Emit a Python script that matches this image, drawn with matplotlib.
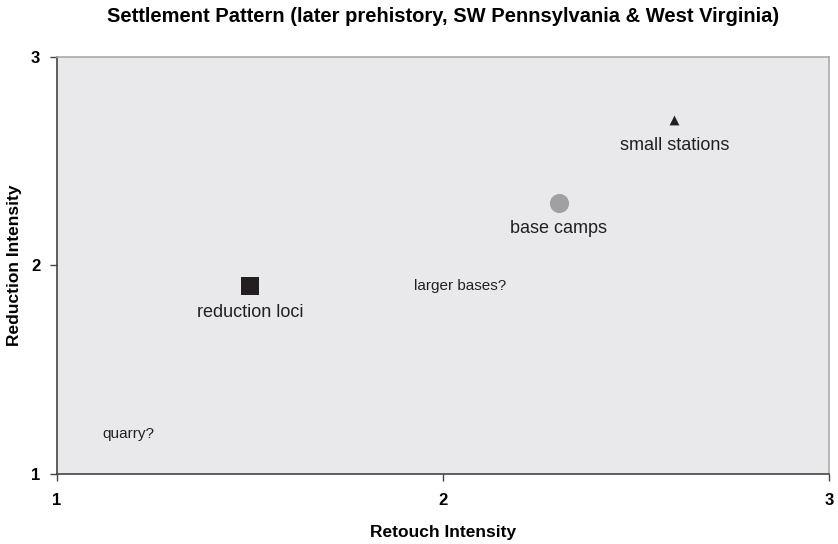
import matplotlib
matplotlib.use("Agg")
import matplotlib.pyplot as plt

plt.rcParams['font.family'] = ['Liberation Sans', 'DejaVu Sans']

# site types with markers
site_names = ['reduction loci', 'base camps', 'small stations']
retouch = [1.5, 2.3, 2.6]
reduction = [1.9, 2.3, 2.7]
markers = ['s', 'o', '^']
colors = ['#231f20', '#a0a0a0', '#231f20']
sizes = [150, 190, 50]

# text-only notes
note_labels = ['larger bases?', 'quarry?']
note_x = [2.045, 1.185]
note_y = [1.9, 1.19]

tick_vals = [1, 2, 3]

fig = plt.figure(figsize=(8.38, 5.44), dpi=100)
ax = fig.add_axes([0.068, 0.129, 0.921, 0.766])
ax.set_facecolor('#e9e9eb')

for x, y, m, c, s, name in zip(retouch, reduction, markers, colors, sizes, site_names):
    ax.scatter([x], [y], marker=m, color=c, s=s, zorder=3, linewidths=0)
    ax.annotate(name, (x, y), xytext=(0, -26), textcoords='offset pixels',
                ha='center', va='center', fontsize=13, color='#231f20')

for lab, x, y in zip(note_labels, note_x, note_y):
    ax.text(x, y, lab, ha='center', va='center', fontsize=11, color='#231f20')

ax.set_xlim(1, 3)
ax.set_ylim(1, 3)
ax.set_xticks(tick_vals)
ax.set_yticks(tick_vals)
ax.set_xticklabels([str(t) for t in tick_vals], fontweight='bold', fontsize=12)
ax.set_yticklabels([str(t) for t in tick_vals], fontweight='bold', fontsize=12)
ax.tick_params(direction='out', length=5, width=1, color='#444444')
ax.tick_params(axis='x', pad=9)
ax.tick_params(axis='y', pad=7)

for s in ['left', 'bottom']:
    ax.spines[s].set_color('#444444')
    ax.spines[s].set_linewidth(1.2)
for s in ['top', 'right']:
    ax.spines[s].set_color('#aaaaaa')
    ax.spines[s].set_linewidth(1.2)

ax.set_xlabel('Retouch Intensity', fontweight='bold', fontsize=12.5, labelpad=12)
ax.set_ylabel('Reduction Intensity', fontweight='bold', fontsize=12.5)
ax.yaxis.set_label_coords(-0.045, 0.5)
ax.set_title('Settlement Pattern (later prehistory, SW Pennsylvania & West Virginia)',
             fontweight='bold', fontsize=14.5, pad=25)

fig.savefig('out.png', dpi=100)
